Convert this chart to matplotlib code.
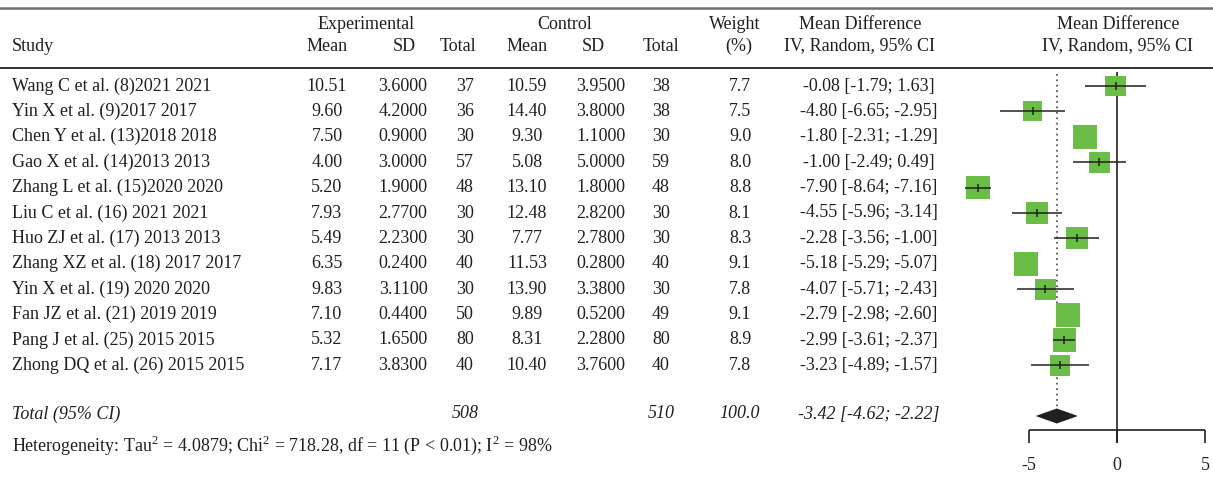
import numpy as np
import matplotlib
matplotlib.use("Agg")
import matplotlib.pyplot as plt

plt.rcParams['font.family'] = ['Liberation Serif', 'DejaVu Serif']
plt.rcParams['mathtext.fontset'] = 'custom'
plt.rcParams['mathtext.rm'] = 'Liberation Serif'

studies = ["Wang C et al. (8)2021 2021", "Yin X et al. (9)2017 2017",
           "Chen Y et al. (13)2018 2018", "Gao X et al. (14)2013 2013",
           "Zhang L et al. (15)2020 2020", "Liu C et al. (16) 2021 2021",
           "Huo ZJ et al. (17) 2013 2013", "Zhang XZ et al. (18) 2017 2017",
           "Yin X et al. (19) 2020 2020", "Fan JZ et al. (21) 2019 2019",
           "Pang J et al. (25) 2015 2015", "Zhong DQ et al. (26) 2015 2015"]
exp_mean = ["10.51", "9.60", "7.50", "4.00", "5.20", "7.93", "5.49", "6.35", "9.83", "7.10", "5.32", "7.17"]
exp_sd = ["3.6000", "4.2000", "0.9000", "3.0000", "1.9000", "2.7700", "2.2300", "0.2400", "3.1100", "0.4400", "1.6500", "3.8300"]
exp_n = [37, 36, 30, 57, 48, 30, 30, 40, 30, 50, 80, 40]
ctl_mean = ["10.59", "14.40", "9.30", "5.08", "13.10", "12.48", "7.77", "11.53", "13.90", "9.89", "8.31", "10.40"]
ctl_sd = ["3.9500", "3.8000", "1.1000", "5.0000", "1.8000", "2.8200", "2.7800", "0.2800", "3.3800", "0.5200", "2.2800", "3.7600"]
ctl_n = [38, 38, 30, 59, 48, 30, 30, 40, 30, 49, 80, 40]
weight = [7.7, 7.5, 9.0, 8.0, 8.8, 8.1, 8.3, 9.1, 7.8, 9.1, 8.9, 7.8]
md = [-0.08, -4.80, -1.80, -1.00, -7.90, -4.55, -2.28, -5.18, -4.07, -2.79, -2.99, -3.23]
lo = [-1.79, -6.65, -2.31, -2.49, -8.64, -5.96, -3.56, -5.29, -5.71, -2.98, -3.61, -4.89]
hi = [1.63, -2.95, -1.29, 0.49, -7.16, -3.14, -1.00, -5.07, -2.43, -2.60, -2.37, -1.57]

total_exp, total_ctl, total_weight = 508, 510, 100.0
pooled_md, pooled_lo, pooled_hi = -3.42, -4.62, -2.22
het_text = r"Heterogeneity: Tau$^2$ = 4.0879; Chi$^2$ = 718.28, df = 11 (P < 0.01); I$^2$ = 98%"
xticks = [-5, 0, 5]

W, H = 1213, 478
txt = '#231f20'
green = '#6abd45'
fs = 13

fig = plt.figure(figsize=(W / 100, H / 100), dpi=100)
ax = fig.add_axes([0, 0, 1, 1])
ax.set_xlim(0, W)
ax.set_ylim(H, 0)
ax.axis('off')

# header rules
ax.plot([0, W], [8, 8], color='#6d6e71', lw=1.8)
ax.plot([0, W], [68, 68], color='#231f20', lw=1.3)

def t(x, y, s, ha='center', **kw):
    ax.text(x, y, s, ha=ha, va='center', fontsize=fs, color=txt, **kw)

# column headers
t(366, 24, "Experimental")
t(565, 24, "Control")
t(735, 24, "Weight")
t(860, 24, "Mean Difference")
t(1118, 24, "Mean Difference")
t(12, 46, "Study", ha='left')
for x, s in [(327, "Mean"), (404, "SD"), (458, "Total"), (527, "Mean"),
             (593, "SD"), (661, "Total"), (739, "(%)"),
             (860, "IV, Random, 95% CI"), (1118, "IV, Random, 95% CI")]:
    t(x, 46, s)

row_y = 86 + 25.4 * np.arange(len(studies))
for i, y in enumerate(row_y):
    t(12, y, studies[i], ha='left')
    t(327, y, exp_mean[i])
    t(403, y, exp_sd[i])
    t(465, y, str(exp_n[i]))
    t(527, y, ctl_mean[i])
    t(601, y, ctl_sd[i])
    t(661, y, str(ctl_n[i]))
    t(740, y, f"{weight[i]:.1f}")
    t(869, y, f"{md[i]:.2f} [{lo[i]:.2f}; {hi[i]:.2f}]")

ty = 414
t(12, ty, "Total (95% CI)", ha='left', style='italic')
t(465, ty, str(total_exp), style='italic')
t(661, ty, str(total_ctl), style='italic')
t(740, ty, f"{total_weight:.1f}", style='italic')
t(869, ty, f"{pooled_md:.2f} [{pooled_lo:.2f}; {pooled_hi:.2f}]", style='italic')
t(12, 445, het_text, ha='left')

# forest panel
x0, x1, zero_px, unit = 950, W, 1117, 17.6
fax = fig.add_axes([x0 / W, 0, (x1 - x0) / W, 1])
fax.set_xlim((x0 - zero_px) / unit, (x1 - zero_px) / unit)
fax.set_ylim(H, 0)
fax.axis('off')

fax.vlines(0, 72, 443, color=txt, lw=1.2, zorder=1)
fax.vlines(pooled_md, 74, 409, color='#58595b', lw=1.3, linestyles=(0, (1, 2)), zorder=1)

for i, y in enumerate(row_y):
    side_px = 2.65 * weight[i]
    fax.scatter(md[i], y, marker='s', s=(side_px * 0.72) ** 2, color=green,
                edgecolors='none', zorder=2)
    if (hi[i] - lo[i]) * unit > 0.9 * side_px:
        fax.hlines(y, lo[i], hi[i], color='#231f20', lw=1.1, zorder=3)
        fax.vlines(md[i], y - 4, y + 4, color='#231f20', lw=1.1, zorder=3)

fax.fill([pooled_lo, pooled_md, pooled_hi, pooled_md], [ty + 2, ty - 5.5, ty + 2, ty + 9.5],
         color='#231f20', edgecolor='none', zorder=3)

fax.hlines(430, xticks[0], xticks[-1], color=txt, lw=1.2)
fax.vlines(xticks, 430, 443, color=txt, lw=1.2)
for v in xticks:
    fax.text(v, 465, str(v), ha='center', va='center', fontsize=fs, color=txt)

fig.savefig("out.png", dpi=100)
